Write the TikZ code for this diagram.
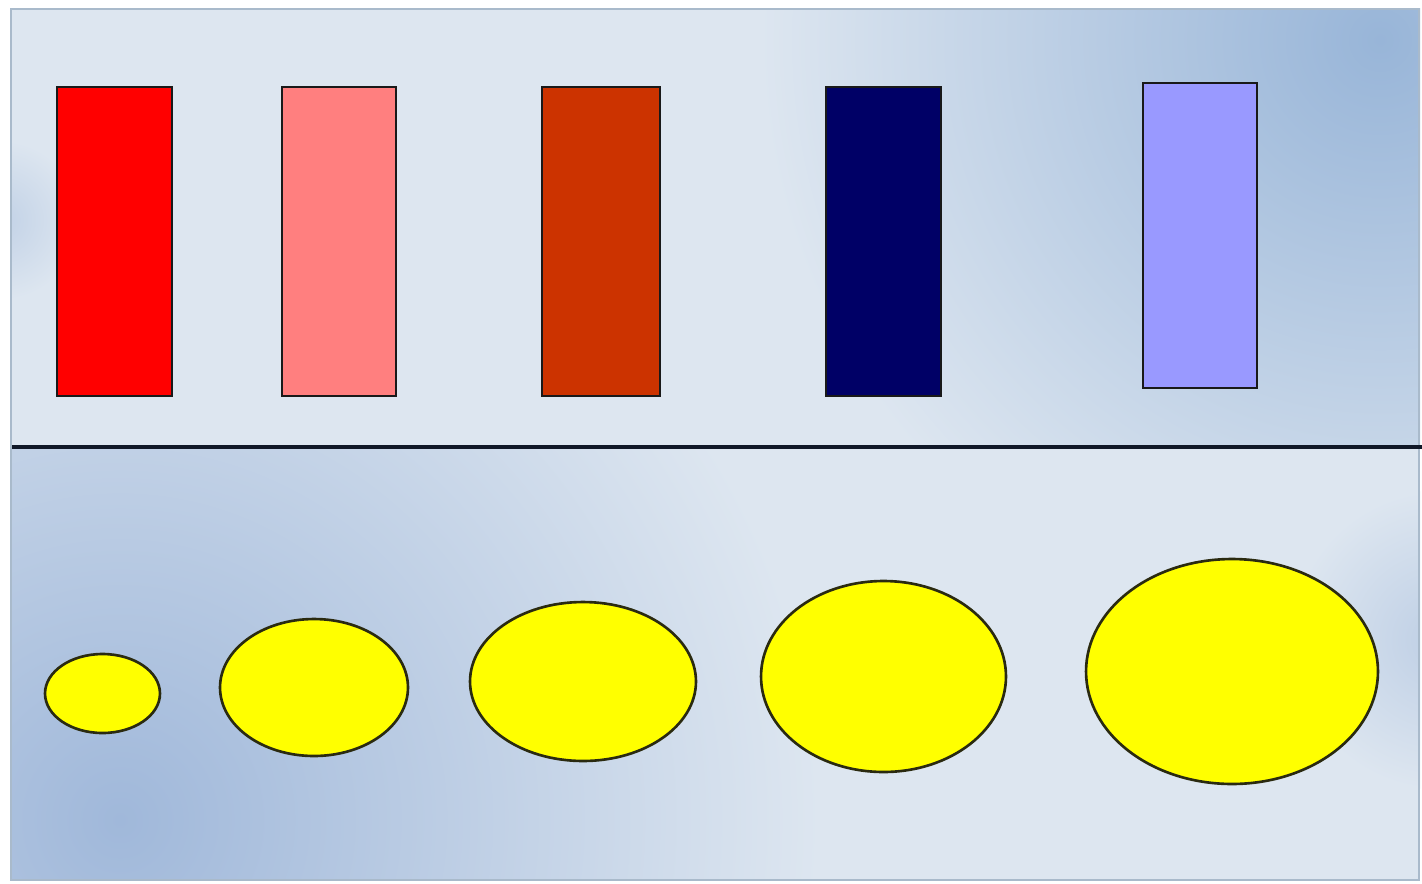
\documentclass[tikz,border=0pt]{standalone}
\usetikzlibrary{shapes.geometric}
\definecolor{bglight}{HTML}{DDE6F0}
\definecolor{bgblue}{HTML}{98B5D8}
\definecolor{bgblue2}{HTML}{A0B8DA}
\definecolor{framec}{HTML}{A9BACB}
\definecolor{barA}{HTML}{FF0000}
\definecolor{barB}{HTML}{FF7F7F}
\definecolor{barC}{HTML}{CC3300}
\definecolor{barD}{HTML}{000066}
\definecolor{barE}{HTML}{9999FF}
\definecolor{sun}{HTML}{FFFF00}
\definecolor{sunline}{HTML}{2A2A10}
\definecolor{divline}{HTML}{101828}
\tikzset{
  bar/.style={draw=black!90, line width=1.5pt, rectangle, inner sep=0pt, minimum height=6.18cm},
  blob/.style={draw=sunline, fill=sun, line width=1.5pt, ellipse, inner sep=0pt},
}
\begin{document}
\begin{tikzpicture}[x=0.02cm,y=-0.02cm]
\useasboundingbox (0,0) rectangle (1422,883);
\fill[white] (0,0) rectangle (1422,883);
% top panel background
\begin{scope}
\clip (10,8) rectangle (1420,447);
\fill[bglight] (10,8) rectangle (1420,447);
\shade[inner color=bgblue, outer color=bglight] (1380,40) circle (620);
\shade[inner color=bgblue2!45!bglight, outer color=bglight] (0,220) circle (80);
\end{scope}
% bottom panel background
\begin{scope}
\clip (10,447) rectangle (1420,880);
\fill[bglight] (10,447) rectangle (1420,880);
\shade[inner color=bgblue2, outer color=bglight] (120,820) circle (700);
\shade[inner color=bgblue2!50!bglight, outer color=bglight] (1440,640) circle (150);
\end{scope}
% frame
\draw[framec, line width=1.6pt] (11,9) rectangle (1419,880);
% divider
\coordinate (dl) at (12,447);
\coordinate (dr) at (1422,447);
\draw[divline, line width=1.8pt] (dl) -- (dr);
% bars
\node[bar, fill=barA, minimum width=2.30cm] (b1) at (114.5,241.5) {};
\node[bar, fill=barB, minimum width=2.28cm] (b2) at (339,241.5) {};
\node[bar, fill=barC, minimum width=2.36cm] (b3) at (601,241.5) {};
\node[bar, fill=barD, minimum width=2.30cm] (b4) at (883.5,241.5) {};
\node[bar, fill=barE, minimum width=2.28cm, minimum height=6.10cm] (b5) at (1200,235.5) {};
% ellipses
\node[blob, minimum width=2.30cm, minimum height=1.58cm] (e1) at (102.5,693.5) {};
\node[blob, minimum width=3.76cm, minimum height=2.74cm] (e2) at (314,687.5) {};
\node[blob, minimum width=4.52cm, minimum height=3.18cm] (e3) at (583,681.5) {};
\node[blob, minimum width=4.90cm, minimum height=3.82cm] (e4) at (883.5,676.5) {};
\node[blob, minimum width=5.84cm, minimum height=4.50cm] (e5) at (1232,671.5) {};
\end{tikzpicture}
\end{document}
